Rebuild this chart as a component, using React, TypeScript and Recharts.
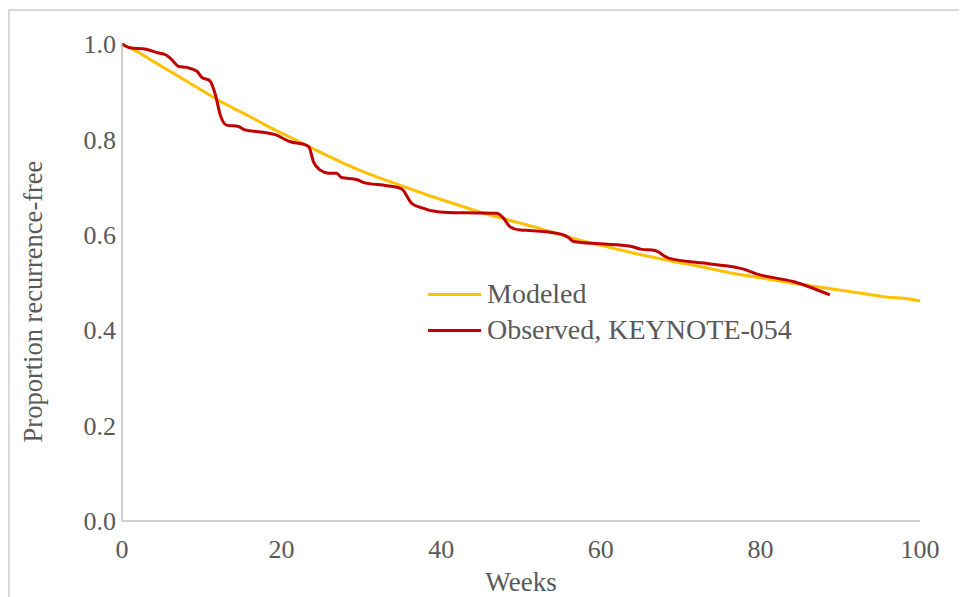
import React from 'react';
import { LineChart, Line, XAxis, YAxis, Legend, Label } from 'recharts';

// weeks / proportion
const modeledWeeks = [0, 2, 4, 6, 8, 10, 12, 14, 16, 18, 20, 22, 24, 26, 28, 30, 32, 34, 36, 38, 40, 42, 44, 46, 48, 50, 52, 54, 56, 58, 60, 62, 64, 66, 68, 70, 72, 74, 76, 78, 80, 82, 84, 86, 88, 90, 92, 94, 96, 98, 100];
const modeledValues = [1.0, 0.983, 0.963, 0.943, 0.923, 0.903, 0.883, 0.865, 0.848, 0.83, 0.813, 0.797, 0.78, 0.764, 0.748, 0.734, 0.721, 0.709, 0.697, 0.685, 0.674, 0.663, 0.652, 0.642, 0.633, 0.624, 0.615, 0.605, 0.595, 0.586, 0.578, 0.57, 0.562, 0.555, 0.548, 0.541, 0.535, 0.528, 0.521, 0.515, 0.51, 0.504, 0.499, 0.494, 0.489, 0.484, 0.479, 0.474, 0.469, 0.467, 0.461];

const observedWeeks = [0, 1, 3, 4.6, 5.4, 6.2, 7.1, 8.1, 9.4, 10, 11, 11.7, 12.3, 13.1, 14.6, 15.4, 17.7, 19.2, 21.1, 22.7, 23.4, 24, 24.8, 25.9, 26.9, 27.5, 29.4, 30.2, 33.2, 35, 36.3, 37.3, 39.8, 43.2, 46.9, 47.8, 48.6, 49.9, 51.1, 54.9, 55.9, 56.6, 59.9, 63.7, 65, 66.8, 68.5, 73.7, 77.9, 79.5, 84.1, 86.6, 88.7];
const observedValues = [1.0, 0.992, 0.989, 0.981, 0.978, 0.968, 0.953, 0.951, 0.943, 0.93, 0.923, 0.894, 0.852, 0.83, 0.827, 0.82, 0.815, 0.81, 0.795, 0.79, 0.785, 0.753, 0.736, 0.729, 0.729, 0.72, 0.716, 0.71, 0.703, 0.697, 0.666, 0.658, 0.648, 0.646, 0.645, 0.635, 0.617, 0.61, 0.609, 0.602, 0.595, 0.586, 0.581, 0.576, 0.57, 0.567, 0.551, 0.539, 0.528, 0.518, 0.502, 0.488, 0.474];

const xTicks = [0, 20, 40, 60, 80, 100];
const yTicks = [0, 0.2, 0.4, 0.6, 0.8, 1.0];

const modeled = modeledWeeks.map((w, i) => ({ week: w, value: modeledValues[i] }));
const observed = observedWeeks.map((w, i) => ({ week: w, value: observedValues[i] }));

const FONT = '"Liberation Serif", "Times New Roman", serif';
const TEXT = '#595959';

const series = [
  { name: 'Modeled', color: '#FFC000' },
  { name: 'Observed, KEYNOTE-054', color: '#C00000' },
];

const LegendBox = () => (
  <div style={{ fontFamily: FONT, fontSize: 28, color: TEXT }}>
    {series.map((s) => (
      <div key={s.name} style={{ display: 'flex', alignItems: 'center', height: 36 }}>
        <div style={{ width: 53, height: 3, background: s.color, marginRight: 6 }} />
        <span>{s.name}</span>
      </div>
    ))}
  </div>
);

const YTitle = (props: any) => {
  const vb = props.viewBox;
  const cx = 23;
  const cy = vb.y + vb.height / 2 + 19;
  return (
    <text x={cx} y={cy} transform={`rotate(-90 ${cx} ${cy})`} textAnchor="middle" dominantBaseline="central"
      fontFamily={FONT} fontSize={26.5} fill={TEXT}>
      Proportion recurrence-free
    </text>
  );
};

export default function App() {
  return (
    <div style={{ width: 957, height: 586, marginTop: 1, borderLeft: '2px solid #d9d9d9', borderTop: '2px solid #d9d9d9', overflow: 'hidden', background: '#fff' }}>
      <style>{'html,body{overflow:hidden}'}</style>
      <LineChart width={957} height={586} margin={{ top: 33, right: 47, bottom: 16, left: 52 }}>
        <XAxis
          dataKey="week"
          type="number"
          domain={[0, 100]}
          ticks={xTicks}
          allowDuplicatedCategory={false}
          height={60}
          stroke="#bfbfbf"
          strokeWidth={1.5}
          tickLine={false}
          tickSize={0}
          tickMargin={19}
          tick={{ fill: TEXT, fontFamily: FONT, fontSize: 26 }}
        >
          <Label value="Weeks" position="bottom" offset={-9} fill={TEXT} fontFamily={FONT} fontSize={27} />
        </XAxis>
        <YAxis
          dataKey="value"
          type="number"
          domain={[0, 1]}
          ticks={yTicks}
          width={60}
          stroke="#bfbfbf"
          strokeWidth={1.5}
          tickLine={false}
          tickSize={0}
          tickMargin={6}
          tickFormatter={(v: number) => v.toFixed(1)}
          tick={{ fill: TEXT, fontFamily: FONT, fontSize: 26 }}
        >
          <Label content={<YTitle />} />
        </YAxis>
        <Legend
          content={<LegendBox />}
          layout="vertical"
          align="center"
          verticalAlign="middle"
          wrapperStyle={{ position: 'absolute', left: 418, top: 265, width: 'auto' }}
        />
        <Line data={modeled} dataKey="value" name="Modeled" type="monotone" stroke="#FFC000" strokeWidth={3} dot={false} isAnimationActive={false} />
        <Line data={observed} dataKey="value" name="Observed, KEYNOTE-054" type="monotone" stroke="#C00000" strokeWidth={3} dot={false} isAnimationActive={false} />
      </LineChart>
    </div>
  );
}
